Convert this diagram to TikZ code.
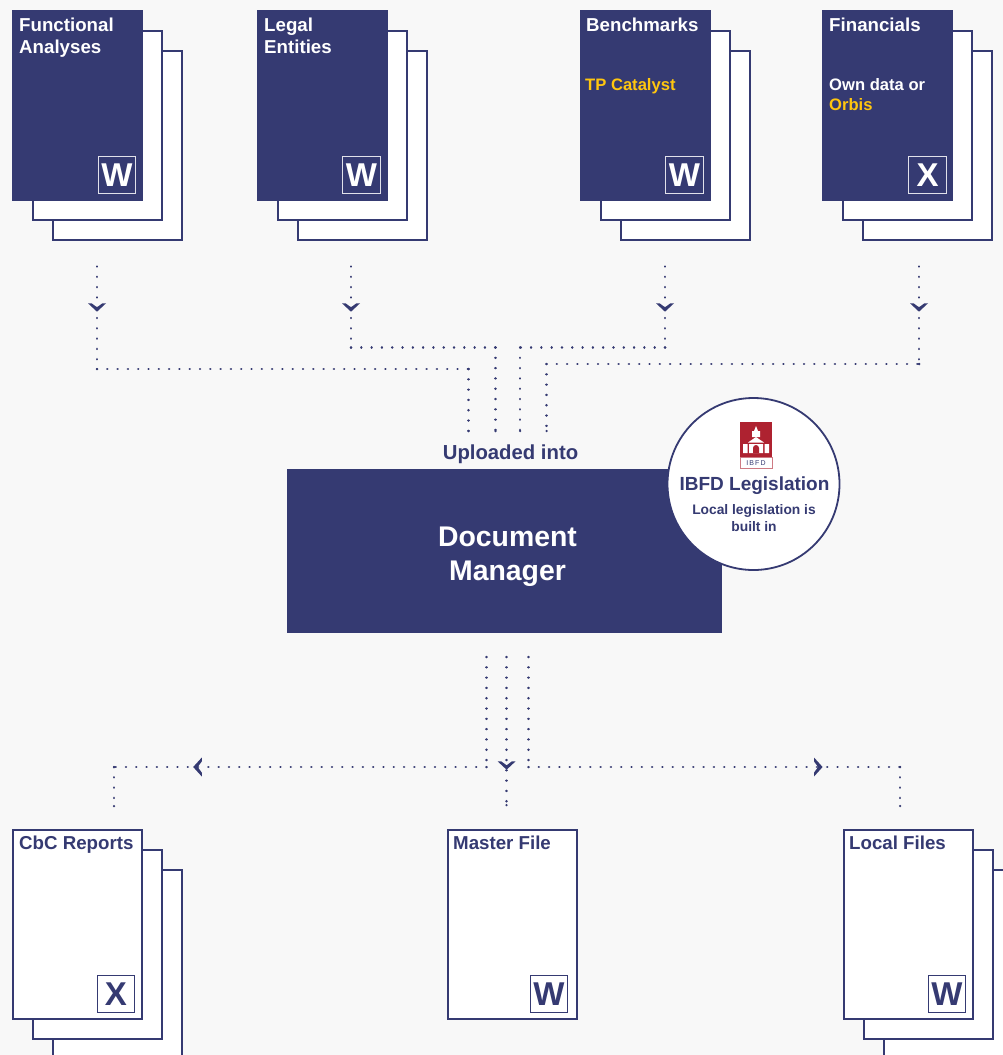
\documentclass[tikz,border=0pt]{standalone}
\usepackage{fontspec}
\setmainfont{Liberation Sans}
\definecolor{navy}{HTML}{353A72}
\definecolor{bgc}{HTML}{F8F8F8}
\definecolor{gold}{HTML}{FFC60F}
\definecolor{ibfdred}{HTML}{AE2230}
\tikzset{
  sheet/.style={draw=navy,line width=1.6pt,fill=white,minimum width=129.4pt,minimum height=189.4pt,inner sep=0pt,anchor=north west},
  darksheet/.style={fill=navy,minimum width=131pt,minimum height=191pt,inner sep=0pt,outer sep=0pt,anchor=north west},
  badge/.style={minimum width=37.4pt,minimum height=37.4pt,inner sep=0pt,line width=1pt,font=\fontsize{33}{33}\selectfont\bfseries,text depth=0pt},
  title/.style={anchor=base west,inner sep=0pt,font=\fontsize{18.7}{22}\selectfont\bfseries,align=left},
  sub/.style={anchor=base west,inner sep=0pt,font=\fontsize{16.6}{20}\selectfont\bfseries,align=left},
  dots/.style={draw=navy,line width=2.5pt,line cap=round,dash pattern=on 0.05pt off 10.25pt},
  chev/.style={fill=navy},
}
\newcommand{\backsheets}[3]{%
  \node[sheet] (#1back) at ({#2+40},{#3+40}) {};
  \node[sheet] (#1mid) at ({#2+20},{#3+20}) {};
}
\newcommand{\darkfront}[3]{%
  \node[darksheet] (#1front) at (#2,#3) {};
}
\newcommand{\lightfront}[3]{%
  \node[sheet] (#1front) at (#2,#3) {};
}
\newcommand{\dotline}[2]{%
  \draw[dots] (#1) -- (#2);
  \fill[navy] (#2) circle (1.25pt);
}
\newcommand{\chevdown}[2]{%
  \fill[chev] ({#1-9},{#2-4.2}) -- ({#1-5.4},{#2-4.2}) -- ({#1},{#2-0.2}) -- ({#1+5.4},{#2-4.2}) -- ({#1+9},{#2-4.2}) -- ({#1},{#2+4.2}) -- cycle;
}
\newcommand{\chevside}[3]{%
  \fill[chev] ({#1+#3*4.3},{#2-9.5}) -- ({#1+#3*4.3},{#2-5.6}) -- ({#1+#3*0.2},{#2}) -- ({#1+#3*4.3},{#2+5.6}) -- ({#1+#3*4.3},{#2+9.5}) -- ({#1-#3*4.3},{#2}) -- cycle;
}
\begin{document}
\begin{tikzpicture}[x=1pt,y=-1pt]
\useasboundingbox (0,0) rectangle (1003,1055);
\fill[bgc] (0,0) rectangle (1003,1055);
\clip (0,0) rectangle (1003,1055);

% top stacks
\backsheets{fa}{12}{10}\darkfront{fa}{12}{10}
\backsheets{le}{257}{10}\darkfront{le}{257}{10}
\backsheets{bm}{580}{10}\darkfront{bm}{580}{10}
\backsheets{fi}{822}{10}\darkfront{fi}{822}{10}

\node[title,text=white] (fatitle) at (19,53) {Functional\\Analyses};
\node[title,text=white] (letitle) at (264,53) {Legal\\Entities};
\node[title,text=white] (bmtitle) at (586,31) {Benchmarks};
\node[title,text=white] (fititle) at (829,31) {Financials};
\node[sub,text=gold] (bmsub) at (585,90) {TP Catalyst};
\node[sub,text=white] (fisub) at (829,110) {Own data or\\\textcolor{gold}{Orbis}};

\node[badge,draw=white!85!navy,text=white] (fabadge) at (117,175) {W};
\node[badge,draw=white!85!navy,text=white] (lebadge) at (361.5,175) {W};
\node[badge,draw=white!85!navy,text=white] (bmbadge) at (684.5,175) {W};
\node[badge,draw=white!85!navy,text=white] (fibadge) at (927.5,175) {X};

% bottom stacks
\backsheets{cb}{12}{829}\lightfront{cb}{12}{829}
\lightfront{mf}{447}{829}
\backsheets{lf}{843}{829}\lightfront{lf}{843}{829}
\node[title,text=navy] (cbtitle) at (19,849) {CbC Reports};
\node[title,text=navy] (mftitle) at (453,849) {Master File};
\node[title,text=navy] (lftitle) at (849,849) {Local Files};
\node[badge,draw=navy,text=navy] (cbbadge) at (116,994) {X};
\node[badge,draw=navy,text=navy] (mfbadge) at (549,994) {W};
\node[badge,draw=navy,text=navy] (lfbadge) at (947,994) {W};

% document manager
\node[fill=navy,minimum width=435pt,minimum height=164pt,inner sep=0pt,outer sep=0pt,anchor=north west] (dm) at (287,469) {};
\node[text=white,font=\fontsize{28.4}{34}\selectfont\bfseries,align=center,inner sep=0pt] (dmlabel) at (507.5,556.5) {Document\\Manager};
\node[text=navy,font=\fontsize{20.3}{24}\selectfont\bfseries,inner sep=0pt] (uploaded) at (510.5,454) {Uploaded into};

% circle
\node[circle,draw=navy,fill=white,line width=1.8pt,minimum size=172pt,inner sep=0pt] (ibfd) at (753.5,484) {};
\fill[ibfdred] (740,422) rectangle (772,457);
\draw[ibfdred!60,line width=.5pt,fill=white] (740.2,457) rectangle (771.8,467.8);
\fill[white] (743,444) rectangle (747.5,453) (749,444) rectangle (763,453) (764.5,444) rectangle (769,453);
\fill[white] (748,442.5) -- (756,437) -- (764,442.5) -- cycle;
\fill[white] (752,437) rectangle (760,431) (754,431) -- (756,426) -- (758,431) -- cycle;
\fill[ibfdred] (753,453) -- (753,448) arc[start angle=180,end angle=0,radius=3pt] -- (759,453) -- cycle;
\node[text=navy,inner sep=0pt,font=\fontsize{7}{7}\selectfont] (ibfdmark) at (756,462.6) {I\,B\,F\,D};
\node[text=navy,inner sep=0pt,font=\fontsize{19}{22}\selectfont\bfseries] (ibfdt) at (754.5,486) {IBFD Legislation};
\node[text=navy,inner sep=0pt,font=\fontsize{13.8}{17}\selectfont\bfseries,align=center] (ibfds) at (754,518.5) {Local legislation is\\built in};

% connector ends and corners
\coordinate (faout) at (97,266.5);
\coordinate (leout) at (351,266.5);
\coordinate (bmout) at (665,266.5);
\coordinate (fiout) at (919,266.5);
\coordinate (dmin1) at (468.5,431);
\coordinate (dmin2) at (495.5,431);
\coordinate (dmin3) at (520,431);
\coordinate (dmin4) at (546.5,431);
\coordinate (dmout1) at (486.5,657);
\coordinate (dmout2) at (506.5,657);
\coordinate (dmout3) at (528.5,657);
\coordinate (cbin) at (114,806);
\coordinate (mfin) at (506.5,805);
\coordinate (lfin) at (900,806);
\coordinate (fac1) at (97,369);
\coordinate (fac2) at (468.5,369);
\coordinate (lec1) at (351,347.5);
\coordinate (lec2) at (495.5,347.5);
\coordinate (bmc1) at (665,347.5);
\coordinate (bmc2) at (520,347.5);
\coordinate (fic1) at (919,364);
\coordinate (fic2) at (546.5,364);
\coordinate (cbc1) at (486.5,767);
\coordinate (cbc2) at (114,767);
\coordinate (lfc1) at (528.5,767);
\coordinate (lfc2) at (900,767);

\dotline{faout}{fac1}\dotline{fac1}{fac2}\dotline{fac2}{dmin1}
\dotline{leout}{lec1}\dotline{lec1}{lec2}\dotline{lec2}{dmin2}
\dotline{bmout}{bmc1}\dotline{bmc1}{bmc2}\dotline{bmc2}{dmin3}
\dotline{fiout}{fic1}\dotline{fic2}{fic1}\dotline{fic2}{dmin4}
\dotline{dmout1}{cbc1}\dotline{cbc1}{cbc2}\dotline{cbc2}{cbin}
\dotline{dmout2}{mfin}
\dotline{dmout3}{lfc1}\dotline{lfc1}{lfc2}\dotline{lfc2}{lfin}

% chevrons
\chevdown{97}{307.5}
\chevdown{351}{307.5}
\chevdown{665}{307.5}
\chevdown{919}{307.5}
\chevdown{506.6}{765.5}
\chevside{197.5}{767}{1}
\chevside{818.3}{767}{-1}
\end{tikzpicture}
\end{document}
